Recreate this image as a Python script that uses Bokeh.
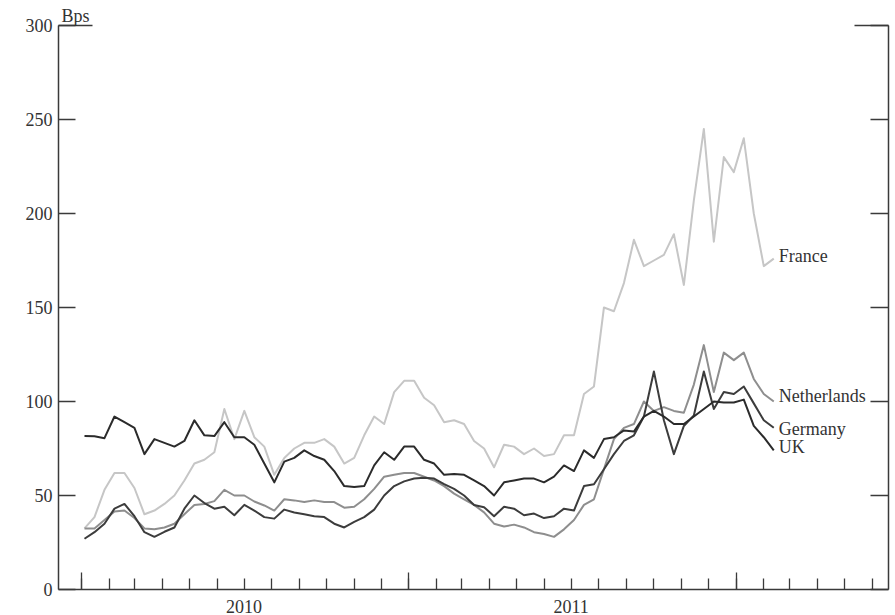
import pandas as pd
from bokeh.plotting import figure
from bokeh.models import (Range1d, LinearAxis, FixedTicker, CustomJSTickFormatter, Label)
from bokeh.embed import file_html
from bokeh.resources import INLINE

# Observation dates: roughly every 11 days, early Jan 2010 to mid Feb 2012
dates = pd.date_range("2010-01-04", "2012-02-12", periods=70)

# Spreads in basis points
france = [32.5, 38.5, 53, 62, 62, 54, 40, 42, 45.5, 50,
          58, 67, 69, 73, 96, 80, 95, 81, 76, 61,
          70, 75, 78, 78, 80, 76, 67, 70, 82, 92,
          88, 105, 111, 111, 102, 98, 89, 90, 88, 79,
          75, 65, 77, 76, 72, 75, 71, 72, 82, 82,
          104, 108, 150, 148, 163, 186, 172, 175, 178, 189,
          162, 207, 245, 185, 230, 222, 240, 200, 172, 176]
netherlands = [32.5, 32.5, 37, 41.5, 42, 38, 32.5, 32, 33, 35,
               40, 45, 45.5, 47, 53, 50, 50, 46.8, 44.7, 42,
               48, 47.4, 46.5, 47.4, 46.5, 46.5, 43.5, 44, 48, 53.5,
               60, 61, 62, 62, 60, 58, 55, 51, 48, 45,
               41, 35, 33.5, 34.5, 33, 30.5, 29.5, 28, 32, 37,
               45, 48, 64, 80, 86, 88, 100, 95, 97, 95,
               94, 109, 130, 105, 126, 122, 126, 112, 104, 100]
germany = [27, 30.5, 35, 43, 45.5, 39, 30.5, 28, 30.7, 33,
           43, 50, 46, 43, 44, 39.5, 45, 42, 38.5, 37.7,
           42.5, 41, 40, 39, 38.5, 35, 33, 36, 38.5, 42.5,
           50, 55, 57.5, 59, 59.5, 59, 56, 53.5, 50, 45,
           43.8, 39, 44, 43, 39.5, 40.4, 38, 39, 43, 42,
           55, 56, 64, 72, 79, 82, 92, 116, 90, 72,
           87, 92.6, 116, 96, 105, 104, 108, 99, 90, 86]
uk = [81.6, 81.5, 80.5, 92, 89, 86, 72, 80, 78, 76,
      79, 90, 82, 81.6, 89, 81, 81, 77, 67, 57,
      68, 70, 74, 71, 69, 63, 55, 54.5, 55, 66,
      73, 69, 76, 76, 69, 67, 61, 61.5, 61, 58,
      55, 50, 57, 58, 59, 59, 57, 60, 66, 63,
      74, 70, 80, 81, 84.6, 84, 92, 95, 92, 88,
      88, 92, 96, 100, 99.5, 99.5, 101, 87, 81, 74]

series_names = ["France", "Netherlands", "Germany", "UK"]
series_colors = ["#c6c6c6", "#8e8e8e", "#3c3c3c", "#2b2b2b"]
label_nudge_px = [3, 6, -1, 3]
y_ticks = [0, 50, 100, 150, 200, 250, 300]
unit_label = "Bps"

FONT = "Liberation Serif"
AX = "#3a3a3a"


def ms(ts):
    return pd.Timestamp(ts).value // 10**6


month_ticks = [ms(d) for d in pd.date_range("2010-01-01", "2012-06-01", freq="MS")]
year_ticks = [ms(d) for d in pd.date_range("2010-01-01", "2012-01-01", freq="YS")]

p = figure(width=893, height=615,
           x_range=Range1d(ms("2009-12-06"), ms("2012-06-19")),
           y_range=Range1d(0, 300),
           x_axis_type=None, y_axis_type=None,
           output_backend="svg", toolbar_location=None,
           min_border_left=58, min_border_right=5, min_border_top=25,
           min_border_bottom=26)
p.outline_line_color = None
p.background_fill_color = "white"
p.border_fill_color = "white"

# unit label above the left axis, drawn as the plot title
p.title.text = unit_label
p.title.align = "left"
p.title.offset = 3
p.title.standoff = 0
p.title.text_font = FONT
p.title.text_font_size = "18px"
p.title.text_font_style = "normal"
p.title.text_color = "#333333"


def style_axis(ax):
    ax.axis_line_color = AX
    ax.axis_line_width = 1.5
    ax.major_tick_line_color = AX
    ax.major_tick_line_width = 1.3
    ax.minor_tick_line_color = AX
    ax.minor_tick_line_width = 1.3
    ax.major_tick_out = 0
    ax.minor_tick_out = 0
    ax.major_label_text_font = FONT
    ax.major_label_text_font_size = "18px"
    ax.major_label_text_color = "#333333"


xax = LinearAxis(ticker=FixedTicker(ticks=month_ticks, minor_ticks=year_ticks),
                 formatter=CustomJSTickFormatter(code="""
                     const d = new Date(tick);
                     return d.getUTCMonth() == 6 ? String(d.getUTCFullYear()) : "";
                 """))
style_axis(xax)
xax.major_tick_in = 11
xax.minor_tick_in = 17
xax.major_label_standoff = 10
p.add_layout(xax, "below")

yl = LinearAxis(ticker=FixedTicker(ticks=y_ticks, minor_ticks=[y_ticks[-1]]))
style_axis(yl)
yl.major_tick_in = 17
yl.minor_tick_in = 34
yl.major_label_standoff = 6
p.add_layout(yl, "left")

yr = LinearAxis(ticker=FixedTicker(ticks=y_ticks, minor_ticks=[y_ticks[-1]]),
                formatter=CustomJSTickFormatter(code="return '';"))
style_axis(yr)
yr.major_tick_in = 18
yr.minor_tick_in = 34
yr.major_label_standoff = 0
p.add_layout(yr, "right")

all_series = [france, netherlands, germany, uk]
for name, vals, col in zip(series_names, all_series, series_colors):
    p.line(x=dates, y=vals, line_color=col, line_width=2.0, line_join="round")

for name, vals, nudge in zip(series_names, all_series, label_nudge_px):
    p.add_layout(Label(x=ms(dates[-1]), y=vals[-1], x_offset=5, y_offset=nudge,
                       text=name, text_font=FONT, text_font_size="18px",
                       text_color="#333333", text_baseline="middle", text_align="left"))

open("out.html", "w").write(file_html(p, INLINE))
